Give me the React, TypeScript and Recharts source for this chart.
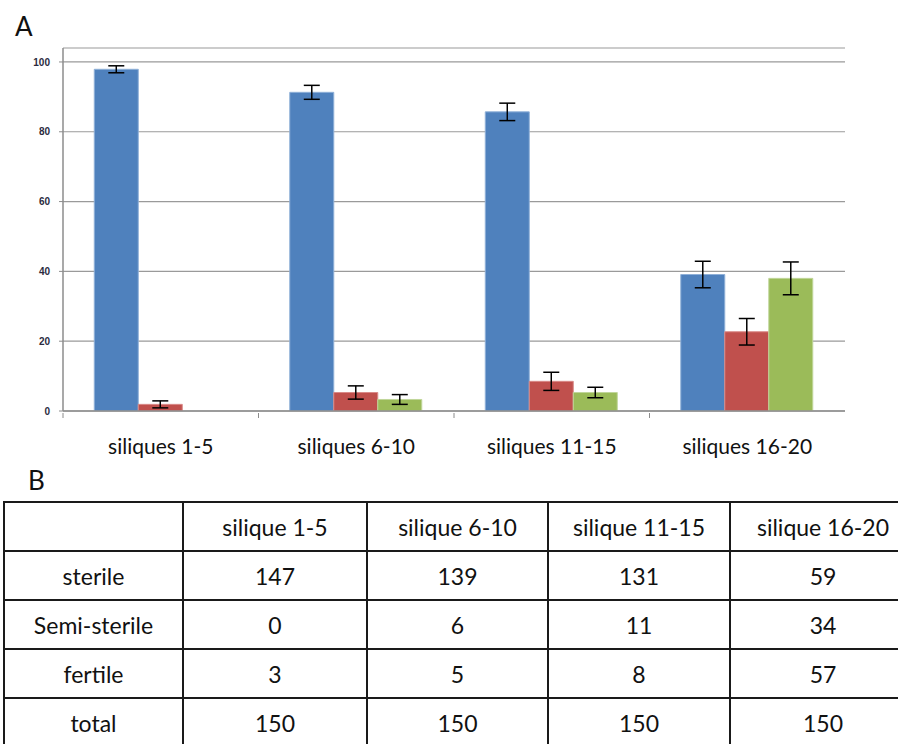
import React from 'react';
import { BarChart, Bar, XAxis, YAxis, CartesianGrid, ErrorBar } from 'recharts';

const categories = ['siliques 1-5', 'siliques 6-10', 'siliques 11-15', 'siliques 16-20'];
const sterile = [97.9, 91.3, 85.7, 39.1];
const sterileErr = [1.0, 2.0, 2.5, 3.8];
const semiSterile = [1.9, 5.3, 8.5, 22.7];
const semiErr = [1.0, 1.9, 2.6, 3.8];
const fertile = [0, 3.3, 5.3, 38.0];
const fertileErr: (number | null)[] = [null, 1.4, 1.5, 4.7];
const yTicks = [0, 20, 40, 60, 80, 100];

const tableHeaders = ['', 'silique 1-5', 'silique 6-10', 'silique 11-15', 'silique 16-20'];
const rowLabels = ['sterile', 'Semi-sterile', 'fertile', 'total'];
const sterileCounts = [147, 139, 131, 59];
const semiCounts = [0, 6, 11, 34];
const fertileCounts = [3, 5, 8, 57];
const totalCounts = [150, 150, 150, 150];

const data = categories.map((name, i) => ({
  name,
  sterile: sterile[i],
  sterileErr: sterileErr[i],
  semi: semiSterile[i],
  semiErr: semiErr[i],
  fertile: fertile[i],
  fertileErr: fertileErr[i],
}));

const tableRows = [sterileCounts, semiCounts, fertileCounts, totalCounts];

const CHART_W = 898;
const CHART_H = 470;
const LEFT = 63;
const RIGHT = 53;
const BAND = (CHART_W - LEFT - RIGHT) / categories.length;
const COL_W = [179, 184, 181, 182, 186];
const TABLE_W = COL_W.reduce((a, b) => a + b, 0);

const XTick = (props: any) => {
  const { x, y, payload } = props;
  return (
    <g>
      <line x1={x - BAND / 2} x2={x - BAND / 2} y1={y} y2={y + 5} stroke="#8c8c8c" />
      <text x={x} y={y + 41} textAnchor="middle" fontFamily="Lato, sans-serif" fontSize={21} fill="#111">
        {payload.value}
      </text>
    </g>
  );
};

const cellStyle: React.CSSProperties = {
  border: '2px solid #1a1a1a',
  textAlign: 'center',
  verticalAlign: 'middle',
  height: 49,
  padding: 0,
  boxSizing: 'border-box',
  whiteSpace: 'nowrap',
};

export default function App() {
  return (
    <div style={{ position: 'absolute', left: 0, top: 0, width: 898, height: 744, overflow: 'hidden', background: '#fff', fontFamily: 'Lato, sans-serif' }}>
      <div style={{ position: 'absolute', left: 15, top: 10, fontSize: 26, color: '#111' }}>A</div>
      <div style={{ position: 'absolute', left: 0, top: 0 }}>
        <BarChart
          width={CHART_W}
          height={CHART_H}
          data={data}
          margin={{ top: 48, right: RIGHT, left: 0, bottom: 19 }}
          barCategoryGap="16%"
          barGap={0}
        >
          <CartesianGrid vertical={false} stroke="#9a9a9a" strokeWidth={1.2} />
          <XAxis
            dataKey="name"
            height={40}
            tick={<XTick />}
            tickLine={false}
            tickSize={0}
            axisLine={{ stroke: '#8c8c8c', strokeWidth: 1.5 }}
            interval={0}
          />
          <YAxis
            width={LEFT}
            domain={[0, 104]}
            ticks={yTicks}
            allowDataOverflow
            tickSize={4}
            tickMargin={9}
            tickLine={{ stroke: '#8c8c8c' }}
            axisLine={{ stroke: '#8c8c8c', strokeWidth: 1.5 }}
            tick={{ fontSize: 10, fontWeight: 'bold', fill: '#2b2b40', fontFamily: 'Liberation Sans, Arial, sans-serif' }}
          />
          <Bar dataKey="sterile" fill="#4f81bd" stroke="#8fb0d8" strokeWidth={1} isAnimationActive={false}>
            <ErrorBar dataKey="sterileErr" width={8} stroke="#000" strokeWidth={1.5} isAnimationActive={false} />
          </Bar>
          <Bar dataKey="semi" fill="#c0504d" stroke="#d98a88" strokeWidth={1} isAnimationActive={false}>
            <ErrorBar dataKey="semiErr" width={8} stroke="#000" strokeWidth={1.5} isAnimationActive={false} />
          </Bar>
          <Bar dataKey="fertile" fill="#9bbb59" stroke="#c0d69a" strokeWidth={1} isAnimationActive={false}>
            <ErrorBar dataKey="fertileErr" width={8} stroke="#000" strokeWidth={1.5} isAnimationActive={false} />
          </Bar>
        </BarChart>
      </div>
      <div style={{ position: 'absolute', left: 28, top: 464, fontSize: 26, color: '#111' }}>B</div>
      <div style={{ position: 'absolute', left: 3, top: 501, width: TABLE_W + 20 }}>
        <table
          style={{
            width: TABLE_W,
            minWidth: TABLE_W,
            borderCollapse: 'collapse',
            tableLayout: 'fixed',
            fontSize: 23,
            color: '#111',
            fontFamily: 'Lato, sans-serif',
          }}
        >
          <colgroup>
            {COL_W.map((w, i) => (
              <col key={i} style={{ width: w }} />
            ))}
          </colgroup>
          <tbody>
            <tr>
              {tableHeaders.map((h, i) => (
                <td key={i} style={cellStyle}>{h}</td>
              ))}
            </tr>
            {rowLabels.map((label, r) => (
              <tr key={label}>
                <td style={cellStyle}>{label}</td>
                {tableRows[r].map((v, c) => (
                  <td key={c} style={cellStyle}>{v}</td>
                ))}
              </tr>
            ))}
          </tbody>
        </table>
      </div>
    </div>
  );
}
